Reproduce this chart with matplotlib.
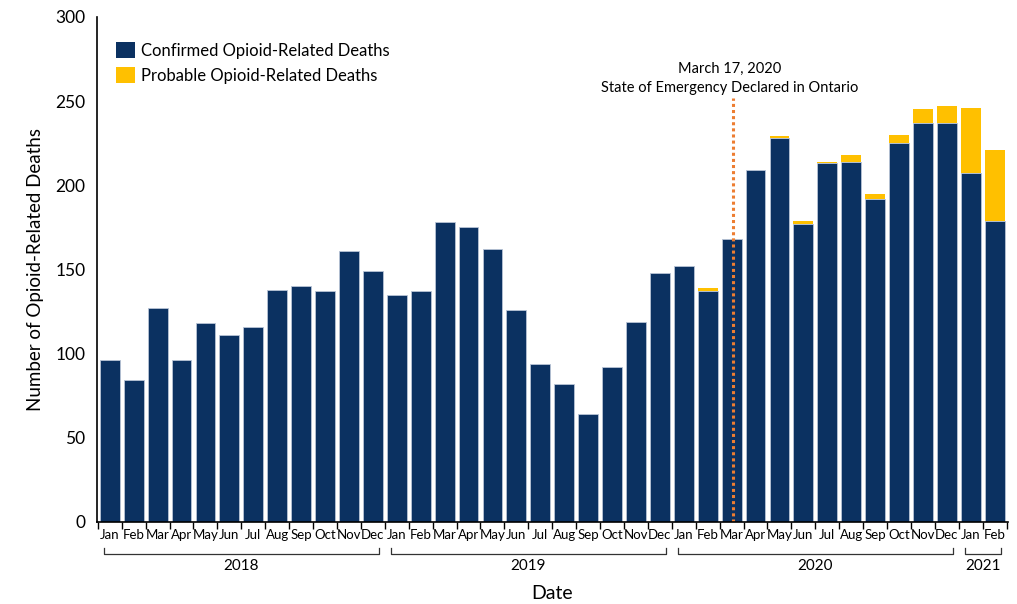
import numpy as np
import matplotlib.pyplot as plt
import matplotlib.transforms as mtransforms
from matplotlib.patches import Patch

plt.rcParams['font.family'] = ['Lato', 'DejaVu Sans']

months = ["Jan", "Feb", "Mar", "Apr", "May", "Jun", "Jul", "Aug", "Sep", "Oct", "Nov", "Dec"] * 3 + ["Jan", "Feb"]

confirmed = [96, 84, 127, 96, 118, 111, 116, 138, 140, 137, 161, 149,
             135, 137, 178, 175, 162, 126, 94, 82, 64, 92, 119, 148,
             152, 137, 168, 209, 228, 177, 213, 214, 192, 225, 237, 237,
             207, 179]
probable = [0, 0, 0, 0, 0, 0, 0, 0, 0, 0, 0, 0,
            0, 0, 0, 0, 0, 0, 0, 0, 0, 0, 0, 0,
            0, 2, 0, 0, 1, 2, 1, 4, 3, 5, 8, 10,
            39, 42]

years = ["2018", "2019", "2020", "2021"]
year_start = [0, 12, 24, 36]
year_end = [11, 23, 35, 37]

navy = "#0B3161"
gold = "#FFC000"

x = np.arange(len(confirmed))

fig, ax = plt.subplots(figsize=(10.17, 6.04), dpi=100)
fig.subplots_adjust(left=0.095, right=0.991, bottom=0.136, top=0.972)

ax.bar(x, confirmed, width=0.83, color=navy, edgecolor="#B8C4D6", linewidth=0.6)
ax.bar(x, probable, width=0.83, bottom=confirmed, color=gold, edgecolor="none")

ax.set_xlim(-0.55, len(x) - 0.45)
ax.set_ylim(0, 300)
ax.set_yticks(range(0, 301, 50))
ax.tick_params(axis="y", length=0, labelsize=12.5, pad=8)

ax.set_xticks(x)
ax.set_xticklabels(months, fontsize=9.5)
ax.tick_params(axis="x", which="major", length=0, pad=5)
ax.set_xticks(np.arange(-0.5, len(x), 1.0), minor=True)
ax.tick_params(axis="x", which="minor", length=5, width=1, color="black")

for s in ["top", "right"]:
    ax.spines[s].set_visible(False)
ax.spines["left"].set_linewidth(1.2)
ax.spines["bottom"].set_linewidth(1.2)

ax.set_ylabel("Number of Opioid-Related Deaths", fontsize=13.5, labelpad=8)

# year brackets under the month labels
trans = mtransforms.blended_transform_factory(ax.transData, ax.transAxes)
for yr, s, e in zip(years, year_start, year_end):
    x0, x1 = s - 0.25, e + 0.25
    ax.plot([x0, x0, x1, x1], [-0.051, -0.063, -0.063, -0.051], color="#333333",
            linewidth=0.9, transform=trans, clip_on=False)
    ax.text((x0 + x1) / 2, -0.088, yr, transform=trans, ha="center", va="center", fontsize=11)

ax.text(0.5, -0.141, "Date", transform=ax.transAxes, ha="center", va="center", fontsize=14)

# state of emergency line
ax.vlines(26.05, 0, 252, color="#ED7D31", linestyle=(0, (1, 1)), linewidth=2.2)
ax.text(25.9, 269, "March 17, 2020", ha="center", va="center", fontsize=10.5)
ax.text(25.9, 258, "State of Emergency Declared in Ontario", ha="center", va="center", fontsize=10.5)

handles = [Patch(facecolor=navy, label="Confirmed Opioid-Related Deaths"),
           Patch(facecolor=gold, label="Probable Opioid-Related Deaths")]
ax.legend(handles=handles, loc="upper left", bbox_to_anchor=(0.005, 0.98), frameon=False,
          fontsize=12, handlelength=1.1, handleheight=1.1, handletextpad=0.4, labelspacing=0.5)

plt.savefig("out.png")
plt.close()
